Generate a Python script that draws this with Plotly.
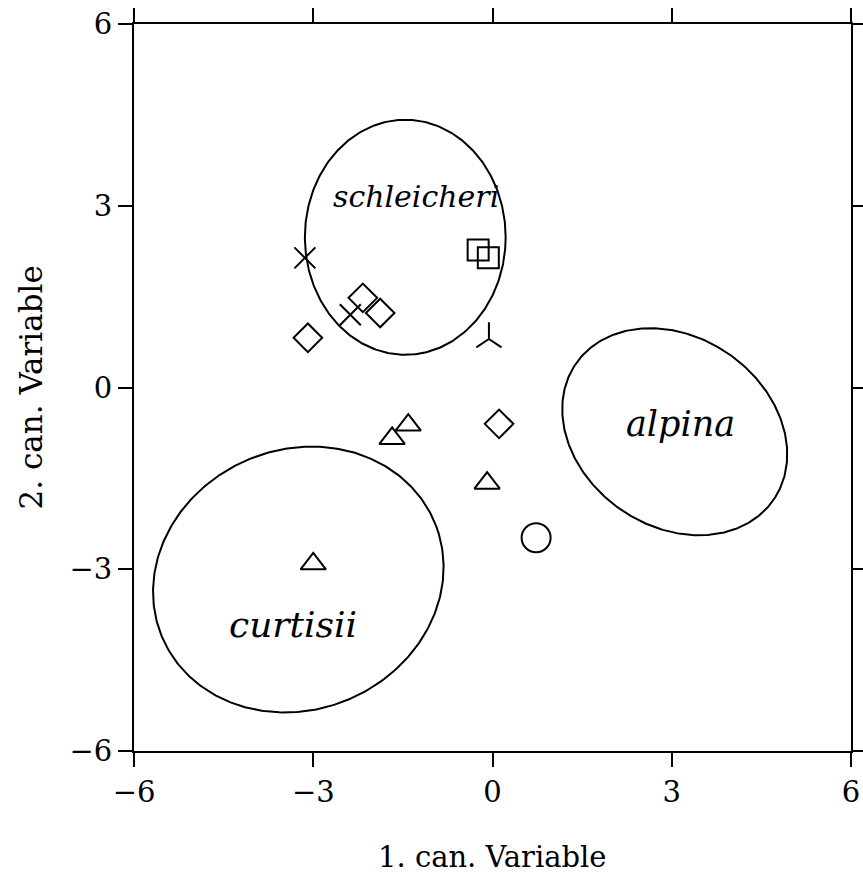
import numpy as np
import plotly.graph_objects as go

# Group ellipses: centre, semi-axes (data units) and rotation (degrees)
ell_names = ["schleicheri", "alpina", "curtisii"]
ell_cx = [-1.46, 3.05, -3.25]
ell_cy = [2.48, -0.73, -3.17]
ell_a = [1.68, 2.00, 2.47]
ell_b = [1.94, 1.57, 2.15]
ell_rot = [0.0, -33.0, 21.0]

# Group name label positions and sizes
lab_x = [-1.28, 3.15, -3.34]
lab_y = [3.15, -0.60, -3.92]
lab_size = [30, 35, 36]

# Individual specimens, grouped by symbol
cross_x = [-3.14, -2.38]
cross_y = [2.14, 1.20]
diamond_x = [-2.17, -1.88, -3.09, 0.11]
diamond_y = [1.48, 1.23, 0.82, -0.60]
square_x = [-0.24, -0.07]
square_y = [2.27, 2.14]
tri_x = [-1.41, -1.68, -0.09, -3.00]
tri_y = [-0.62, -0.84, -1.58, -2.91]
star_x = [-0.06]
star_y = [0.80]
circle_x = [0.73]
circle_y = [-2.48]

ticks = [-6, -3, 0, 3, 6]

fig = go.Figure()

t = np.linspace(0, 2 * np.pi, 361)
for cx, cy, a, b, rot in zip(ell_cx, ell_cy, ell_a, ell_b, ell_rot):
    th = np.deg2rad(rot)
    ex = a * np.cos(t)
    ey = b * np.sin(t)
    fig.add_trace(go.Scatter(
        x=cx + ex * np.cos(th) - ey * np.sin(th),
        y=cy + ex * np.sin(th) + ey * np.cos(th),
        mode="lines", line=dict(color="black", width=2),
        hoverinfo="skip", showlegend=False))

def pts(xs, ys, symbol, size, angle=0):
    fig.add_trace(go.Scatter(
        x=xs, y=ys, mode="markers", showlegend=False,
        marker=dict(symbol=symbol, size=size, color="black", angle=angle,
                    line=dict(color="black", width=2))))

pts(cross_x, cross_y, "x-thin-open", 21)
pts(diamond_x, diamond_y, "diamond-open", 22)
pts(square_x, square_y, "square-open", 21)
pts(tri_x, tri_y, "triangle-up-open", 22)
pts(star_x, star_y, "y-up-open", 21)
pts(circle_x, circle_y, "circle-open", 29)

for name, x, y, s in zip(ell_names, lab_x, lab_y, lab_size):
    fig.add_annotation(x=x, y=y, text=f"<i>{name}</i>", showarrow=False,
                       xanchor="center", yanchor="middle",
                       font=dict(family="DejaVu Serif", size=s, color="black"))

axis_common = dict(
    range=[-6, 6], tickvals=ticks, ticks="outside", ticklen=14, tickwidth=2,
    tickcolor="black", showline=True, linecolor="black", linewidth=2,
    mirror="ticks", showgrid=False, zeroline=False, automargin=False,
    tickfont=dict(family="DejaVu Serif", size=29, color="black"),
)
fig.update_xaxes(**axis_common)
fig.update_yaxes(**axis_common)

fig.add_annotation(xref="paper", yref="paper", x=0.5, y=0, yshift=-106,
                   xanchor="center", yanchor="middle",
                   text="1. can. Variable", showarrow=False,
                   font=dict(family="DejaVu Serif", size=29, color="black"))
fig.add_annotation(xref="paper", yref="paper", x=0, y=0.5, xshift=-104,
                   xanchor="center", yanchor="middle",
                   text="2. can. Variable", showarrow=False, textangle=-90,
                   font=dict(family="DejaVu Serif", size=31, color="black"))

fig.update_layout(
    width=863, height=875,
    margin=dict(l=134, r=12, t=24, b=124),
    paper_bgcolor="white", plot_bgcolor="white",
)

fig.write_html("out.html")
